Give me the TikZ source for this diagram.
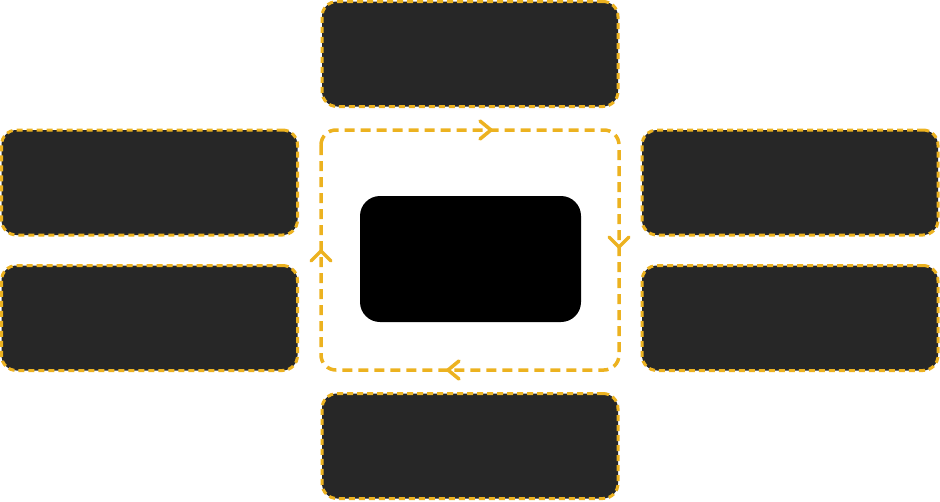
\documentclass[tikz,border=0pt]{standalone}
\usetikzlibrary{positioning,calc}
\definecolor{gold}{RGB}{236,178,32}
\definecolor{boxfill}{RGB}{39,39,39}
\begin{document}
\begin{tikzpicture}[x=1pt,y=-1pt,
  darkbox/.style={draw=gold,fill=boxfill,line width=3pt,dash pattern=on 6pt off 4pt,
    rounded corners=15pt,minimum width=296pt,minimum height=105pt,inner sep=0pt},
  centerbox/.style={fill=black,rounded corners=20pt,minimum width=221pt,minimum height=126pt,inner sep=0pt},
  loopline/.style={draw=gold,line width=3.5pt,dash pattern=on 10pt off 6pt,rounded corners=15pt},
  chevron/.style={draw=gold,line width=3.5pt,line cap=round,line join=round}]
\useasboundingbox (0,0) rectangle (940,501);
\node[darkbox] (top) at (470,54) {};
\node[darkbox] (l1) at (149.5,182.5) {};
\node[darkbox] (l2) at (149.5,318) {};
\node[darkbox] (r1) at (790,182.5) {};
\node[darkbox] (r2) at (790,318) {};
\node[darkbox] (bot) at (470,446) {};
\node[centerbox] (ctr) at (470.5,259) {};
\draw[loopline] (321,130) rectangle (619,370);
\coordinate (at) at (491,130);
\coordinate (ar) at (619,247);
\coordinate (ab) at (448,370);
\coordinate (al) at (321,251);
\draw[chevron] ($(at)+(-11,-9)$) -- (at) -- ($(at)+(-11,9)$);
\draw[chevron] ($(ar)+(-10,-10)$) -- (ar) -- ($(ar)+(10,-10)$);
\draw[chevron] ($(ab)+(11,-9)$) -- (ab) -- ($(ab)+(11,9)$);
\draw[chevron] ($(al)+(-10,10)$) -- (al) -- ($(al)+(10,10)$);
\end{tikzpicture}
\end{document}
